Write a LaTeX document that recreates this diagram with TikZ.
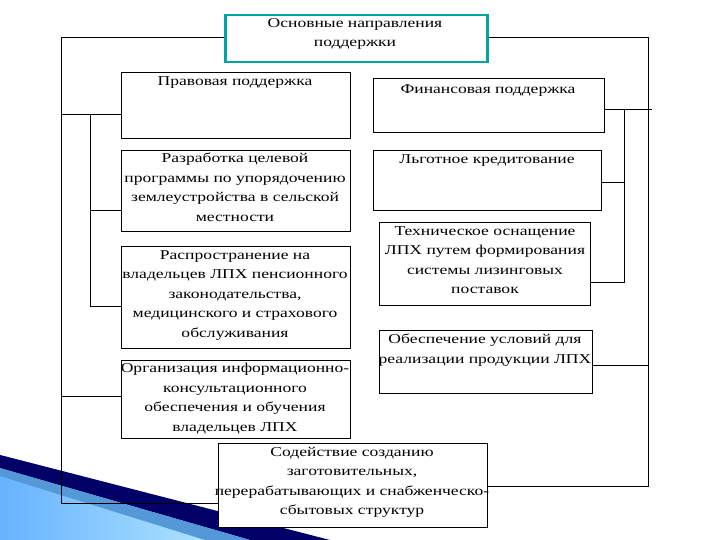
\documentclass[tikz,border=0pt]{standalone}
\usepackage{fontspec}
\setmainfont{Liberation Serif}[FakeStretch=1.3]
\begin{document}
\begin{tikzpicture}[x=1pt,y=-1pt,
  bx/.style={draw,line width=0.8pt,fill=white,inner sep=0pt,anchor=north west},
  tx/.style={align=center,font=\fontsize{13.5}{19.5}\selectfont,inner sep=0pt,anchor=north},
  ln/.style={line width=0.8pt}]
\useasboundingbox (0,0) rectangle (720,540);
% decoration
\shade[left color=cyan!50!blue!60,right color=cyan!15] (0,455) -- (330,540) -- (0,540) -- cycle;
\fill[blue!40!black] (0,455) -- (330,540) -- (250,540) -- (0,468) -- cycle;
\fill[cyan!60!blue!70] (0,468) -- (250,540) -- (205,540) -- (0,476) -- cycle;
% boxes
\node[bx,draw=teal!70!cyan,line width=2.5pt,minimum width=262pt,minimum height=47pt] (top) at (224,14) {};
\node[tx] (topt) at (355,18) {Основные направления\\поддержки};
\node[bx,minimum width=229pt,minimum height=66pt] (b1) at (121,72) {};
\node[tx] (b1t) at (235,76) {Правовая поддержка};
\node[bx,minimum width=229pt,minimum height=81pt] (b2) at (121,150) {};
\node[tx] (b2t) at (235,153) {Разработка целевой\\программы по упорядочению\\землеустройства в сельской\\местности};
\node[bx,minimum width=229pt,minimum height=102pt] (b3) at (121,246) {};
\node[tx] (b3t) at (235,250) {Распространение на\\владельцев ЛПХ пенсионного\\законодательства,\\медицинского и страхового\\обслуживания};
\node[bx,minimum width=229pt,minimum height=78pt] (b4) at (121,360) {};
\node[tx] (b4t) at (235,363) {Организация информационно-\\консультационного\\обеспечения и обучения\\владельцев ЛПХ};
\node[bx,minimum width=231pt,minimum height=54pt] (c1) at (373,78) {};
\node[tx] (c1t) at (488,84) {Финансовая поддержка};
\node[bx,minimum width=228pt,minimum height=60pt] (c2) at (373,150) {};
\node[tx] (c2t) at (487,154) {Льготное кредитование};
\node[bx,minimum width=211pt,minimum height=83pt] (c3) at (379,222) {};
\node[tx] (c3t) at (485,226) {Техническое оснащение\\ЛПХ путем формирования\\системы лизинговых\\поставок};
\node[bx,minimum width=213pt,minimum height=63pt] (c4) at (379,330) {};
\node[tx] (c4t) at (485,334) {Обеспечение условий для\\реализации продукции ЛПХ};
\node[bx,minimum width=269pt,minimum height=84pt] (d) at (218,443) {};
\node[tx] (dt) at (352,447) {Содействие созданию\\заготовительных,\\перерабатывающих и снабженческо-\\сбытовых структур};
% connectors
\draw[ln] (top.west |- 0,37) -- (61,37) -- (61,503) -- (d.west |- 0,503);
\draw[ln] (top.east |- 0,37) -- (648,37) -- (648,486) -- (d.east |- 0,486);
\draw[ln] (61,114) -- (b1.west |- 0,114);
\draw[ln] (90,114) -- (90,306) -- (b3.west |- 0,306);
\draw[ln] (90,210) -- (b2.west |- 0,210);
\draw[ln] (61,396) -- (b4.west |- 0,396);
\draw[ln] (c1.east |- 0,109) -- (652,109);
\draw[ln] (624,109) -- (624,282) -- (c3.east |- 0,282);
\draw[ln] (624,182) -- (c2.east |- 0,182);
\draw[ln] (648,365) -- (c4.east |- 0,365);
\end{tikzpicture}
\end{document}
